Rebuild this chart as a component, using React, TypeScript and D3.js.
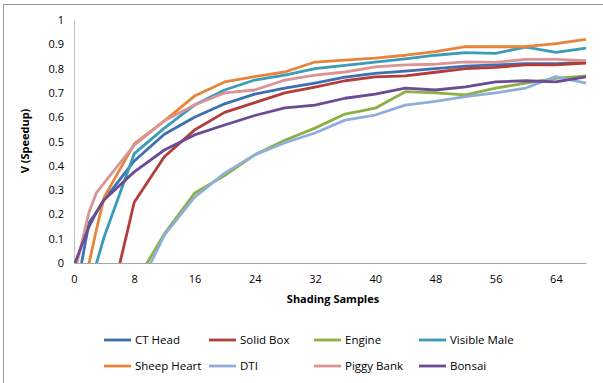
import React, { useEffect, useRef } from "react";
import * as d3 from "d3";

// Shading samples (x) shared by every series
const samples = [0, 1, 2, 3, 4, 8, 12, 16, 20, 24, 28, 32, 36, 40, 44, 48, 52, 56, 60, 64, 68];

// speedup values per dataset (null = no sample); negatives get clipped by the plot area like Excel does
const ctHead = [null, 0, 0.165, 0.21, 0.26, 0.42, 0.53, 0.6, 0.655, 0.695, 0.72, 0.74, 0.765, 0.78, 0.79, 0.8, 0.81, 0.815, 0.82, 0.82, 0.826];
const solidBox = [null, null, null, null, -0.276, 0.25, 0.437, 0.547, 0.62, 0.66, 0.7, 0.724, 0.75, 0.766, 0.77, 0.785, 0.8, 0.805, 0.815, 0.815, 0.823];
const engine = [null, null, null, null, -0.3, -0.089, 0.12, 0.287, 0.36, 0.445, 0.505, 0.555, 0.613, 0.637, 0.705, 0.7, 0.692, 0.72, 0.74, 0.76, 0.77];
const visibleMale = [null, null, -0.16, 0, 0.107, 0.45, 0.555, 0.65, 0.712, 0.753, 0.773, 0.8, 0.813, 0.827, 0.84, 0.855, 0.866, 0.863, 0.888, 0.867, 0.884];
const sheepHeart = [null, -0.15, 0, 0.14, 0.27, 0.49, 0.585, 0.687, 0.745, 0.767, 0.786, 0.827, 0.835, 0.843, 0.855, 0.87, 0.89, 0.89, 0.89, 0.903, 0.92];
const dti = [null, null, null, null, -0.35, -0.14, 0.115, 0.27, 0.37, 0.445, 0.495, 0.535, 0.588, 0.609, 0.65, 0.665, 0.685, 0.7, 0.72, 0.767, 0.74];
const piggyBank = [-0.05, 0.08, 0.21, 0.29, 0.33, 0.485, 0.585, 0.65, 0.7, 0.712, 0.753, 0.773, 0.786, 0.807, 0.815, 0.818, 0.828, 0.826, 0.838, 0.838, 0.833];
const bonsai = [-0.01, 0.07, 0.15, 0.21, 0.26, 0.375, 0.465, 0.527, 0.568, 0.607, 0.638, 0.65, 0.678, 0.695, 0.72, 0.712, 0.725, 0.745, 0.75, 0.745, 0.766];

const seriesNames = ["CT Head", "Solid Box", "Engine", "Visible Male", "Sheep Heart", "DTI", "Piggy Bank", "Bonsai"];
const seriesValues = [ctHead, solidBox, engine, visibleMale, sheepHeart, dti, piggyBank, bonsai];
const seriesColors = ["#3f6fb3", "#b23d3a", "#8cb043", "#3a9cb6", "#e8843a", "#8faed9", "#d99594", "#6a4b94"];

const xTicks = [0, 8, 16, 24, 32, 40, 48, 56, 64];
const yTicks = [0, 0.1, 0.2, 0.3, 0.4, 0.5, 0.6, 0.7, 0.8, 0.9, 1];

const W = 603;
const H = 383;
const FONT = "'Open Sans', sans-serif";

const App = () => {
  const svgRef = useRef<SVGSVGElement>(null);

  useEffect(() => {
    const svg = d3.select(svgRef.current);
    svg.selectAll("*").remove();

    const margin = { top: 20, left: 74, right: 17, bottom: 120 };
    const plotW = W - margin.left - margin.right; // 512
    const plotH = H - margin.top - margin.bottom; // 243

    // outer chart border (only top/left visible in the frame)
    svg
      .append("rect")
      .attr("x", 3.5)
      .attr("y", 4.5)
      .attr("width", 800)
      .attr("height", 600)
      .attr("fill", "none")
      .attr("stroke", "#9a9a9a");

    const x = d3.scaleLinear().domain([0, 68]).range([0, plotW]);
    const y = d3.scaleLinear().domain([0, 1]).range([plotH, 0]);

    const g = svg.append("g").attr("transform", `translate(${margin.left},${margin.top})`);

    g.append("clipPath")
      .attr("id", "plot-clip")
      .append("rect")
      .attr("x", 0)
      .attr("y", -2)
      .attr("width", plotW + 2)
      .attr("height", plotH + 2);

    // axes
    const xAxis = g
      .append("g")
      .attr("transform", `translate(0,${plotH})`)
      .call(d3.axisBottom(x).tickValues(xTicks).tickSize(0).tickPadding(12));
    xAxis.select(".domain").attr("stroke", "#a6a6a6");
    xAxis.selectAll("text").style("font-family", FONT).style("font-size", "11px").attr("fill", "#000");

    const yAxis = g.append("g").call(
      d3
        .axisLeft(y)
        .tickValues(yTicks)
        .tickSize(0)
        .tickPadding(10)
        .tickFormat((d) => d3.format("~g")(d as number))
    );
    yAxis.select(".domain").attr("stroke", "#bfbfbf");
    yAxis.selectAll("text").style("font-family", FONT).style("font-size", "11px").attr("fill", "#000");

    // lines
    const line = d3
      .line<[number, number | null]>()
      .defined((d) => d[1] !== null)
      .x((d) => x(d[0]))
      .y((d) => y(d[1] as number));

    const lines = g.append("g").attr("clip-path", "url(#plot-clip)");
    seriesValues.forEach((vals, i) => {
      const pts = samples.map((s, j) => [s, vals[j]] as [number, number | null]);
      lines
        .append("path")
        .datum(pts)
        .attr("d", line)
        .attr("fill", "none")
        .attr("stroke", seriesColors[i])
        .attr("stroke-width", 2.8)
        .attr("stroke-linejoin", "round");
    });

    // axis titles
    g.append("text")
      .attr("x", plotW / 2 + 3)
      .attr("y", plotH + 40)
      .attr("text-anchor", "middle")
      .style("font-family", FONT)
      .style("font-size", "11px")
      .style("font-weight", "bold")
      .text("Shading Samples");

    svg
      .append("text")
      .attr("transform", `translate(29,${margin.top + 121}) rotate(-90)`)
      .attr("text-anchor", "middle")
      .style("font-family", FONT)
      .style("font-size", "11px")
      .style("font-weight", "bold")
      .text("V (Speedup)");

    // legend: 4 columns x 2 rows
    const legend = svg.append("g");
    seriesNames.forEach((name, i) => {
      const col = i % 4;
      const row = Math.floor(i / 4);
      const lx = 104 + col * 105;
      const ly = 340 + row * 26;
      legend
        .append("line")
        .attr("x1", lx)
        .attr("x2", lx + 27)
        .attr("y1", ly)
        .attr("y2", ly)
        .attr("stroke", seriesColors[i])
        .attr("stroke-width", 2.8);
      legend
        .append("text")
        .attr("x", lx + 31)
        .attr("y", ly)
        .attr("dy", "0.35em")
        .style("font-family", FONT)
        .style("font-size", "11.5px")
        .text(name);
    });
  }, []);

  return (
    <svg
      ref={svgRef}
      width={W}
      height={H}
      style={{ position: "absolute", left: 0, top: 0, background: "#fff" }}
    ></svg>
  );
};

export default App;
